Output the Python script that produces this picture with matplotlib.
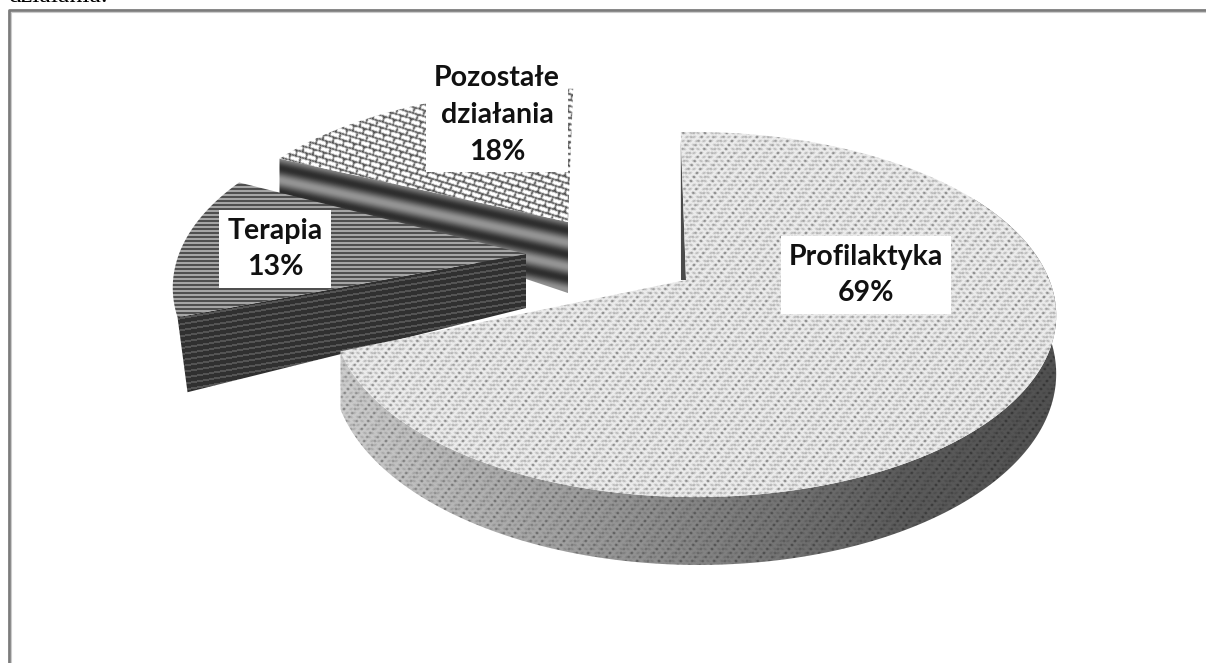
import numpy as np
import matplotlib
matplotlib.use('Agg')
import matplotlib.pyplot as plt
from matplotlib.patches import Polygon

categories = ['Profilaktyka', 'Terapia', 'Pozostałe\ndziałania']
shares = [69, 13, 18]

W, H = 1206, 663
a, b, k, m = 355, 176, 0.189, 0.023

fig = plt.figure(figsize=(W / 100, H / 100), dpi=100)
ax = fig.add_axes([0, 0, 1, 1])
ax.set_xlim(0, W)
ax.set_ylim(H, 0)
ax.axis('off')

yy, xx = np.mgrid[0:H, 0:W]


def rim(cx, cy, phi, ysc=1.0):
    u, v = np.sin(phi), np.cos(phi)
    w = 1 + k * v - m * u
    return cx + a * u / w, cy - ysc * b * v / w, w


def soften(t):
    # the reference is a blurred scan, so textures get a small box blur
    out = t.copy()
    for dy, dx in [(0, 1), (1, 0), (0, -1), (-1, 0)]:
        out = out + 0.6 * np.roll(np.roll(t, dy, axis=0), dx, axis=1)
    return out / 3.4


def paint(img, verts, z):
    im = ax.imshow(img, cmap='gray', vmin=0, vmax=1, extent=(0, W, H, 0),
                   interpolation='bilinear', zorder=z, aspect='auto')
    p = Polygon(verts, closed=True, transform=ax.transData, fc='none', ec='none')
    ax.add_patch(p)
    im.set_clip_path(p)


# textures
fold = np.abs((yy % 16) - 8)
dash = ((xx + fold) % 7 < 3) & (yy % 4 < 2)
speck = ((xx + 3 * (yy // 4)) % 11 < 2) & (yy % 4 < 2)
zigzag = soften(0.92 - 0.22 * dash - 0.28 * speck)
grad = np.interp(xx, [340, 620, 900, 1050], [0.80, 0.58, 0.36, 0.32])
side_main = soften(grad * (1 - 0.16 * dash - 0.32 * speck))

s = yy - 0.3 * xx
row = np.floor(s / 6)
t = xx + 0.3 * yy + 5.5 * row
brick = soften(np.where((s % 6 < 1.6) | (t % 11 < 1.6), 0.3, 1.0))

lines_top = soften(np.where(yy % 4 < 2, 0.22, 0.74))
lines_side = 0.19 + 0.14 * (((yy + 0.173 * xx) % 6) < 2)
bands = 0.38 - 0.2 * np.cos(2 * np.pi * (yy - 0.217 * xx - 107) / 24.0)

# angles run clockwise from the top, each slice follows the previous one
sweep = np.radians(np.array(shares) * 3.6)
start = np.radians(-1.0)
main_a = np.linspace(start, start + sweep[0], 300)
ter_a = np.linspace(main_a[-1], main_a[-1] + sweep[1], 80) + np.radians(2.5)
poz_a = np.linspace(main_a[-1] + sweep[1], main_a[-1] + sweep[1] + sweep[2], 80) + np.radians(2.0)

# Pozostale
cx, cy = 568, 222
x, y, w = rim(cx, cy, poz_a, 0.9)
paint(bands, [(x[0], y[0]), (cx, cy), (cx, cy + 71), (x[0], y[0] + 38)], 2)
paint(brick, list(zip(x, y)) + [(cx, cy)], 3)

# Terapia
cx, cy = 526, 254
x, y, w = rim(cx, cy, ter_a)
paint(lines_side, [(x[0], y[0]), (cx, cy), (cx, cy + 54), (x[0] + 10, y[0] + 75)], 4)
paint(lines_top, list(zip(x, y)) + [(cx, cy)], 5)

# Profilaktyka
cx, cy = 686, 280
x, y, w = rim(cx, cy, main_a)
vis = main_a > np.radians(60)
d = 55 / w[vis]
paint(side_main, list(zip(x[vis], y[vis])) + list(zip(x[vis][::-1], (y[vis] + d)[::-1])), 6)
ax.add_patch(Polygon([(x[0], y[0] + 8), (cx, cy), (cx - 5, cy)], closed=True, fc='#4a4a4a', ec='none', zorder=6))
paint(zigzag, list(zip(x, y)) + [(cx, cy)], 7)

# labels
pos = [(866, 275), (275, 249), (497, 115)]
for c, v, (lx, ly) in zip(categories, shares, pos):
    ax.text(lx, ly, f'{c}\n{v}%', ha='center', va='center', fontsize=20.5, fontweight='bold',
            family='Lato', color='#111111', linespacing=1.5, zorder=9,
            bbox=dict(boxstyle='square,pad=0.28', fc='white', ec='none'))

# frame cut by the page, previous text line above it
ax.plot([8.5, 8.5, W + 5], [H + 5, 9.5, 9.5], color='#7c7c7c', lw=2, zorder=1)
ax.plot([10.8, 10.8, W + 5], [H + 5, 11.8, 11.8], color='#cccccc', lw=0.8, zorder=1)
ax.text(8, 2, 'działania.', ha='left', va='baseline', fontsize=18.5, family='Liberation Serif', color='black')

fig.savefig('out.png', dpi=100)
